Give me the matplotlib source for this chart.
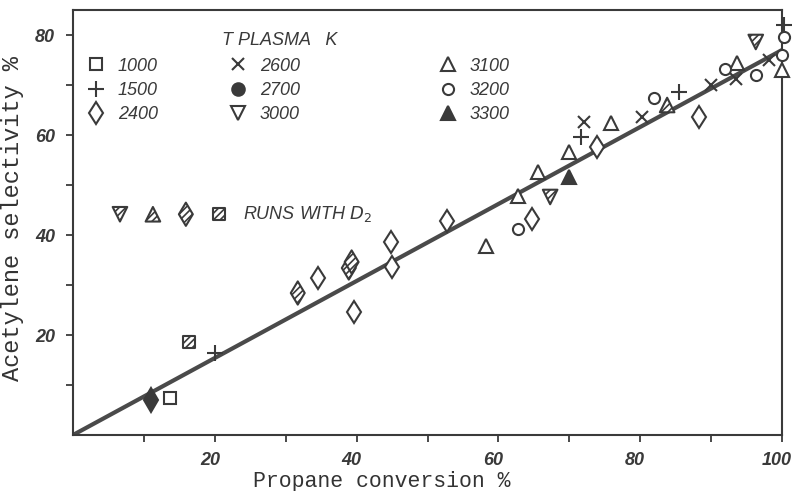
import numpy as np
import matplotlib
matplotlib.use('Agg')
import matplotlib.pyplot as plt
import matplotlib.transforms as mtransforms
from matplotlib.legend_handler import HandlerTuple

ink = '#3a3a3a'

# plasma temperature series, (propane conversion %, acetylene selectivity %)
x1000 = [13.7]
y1000 = [7.4]
x1500 = [20.0, 71.7, 85.5, 100.3]
y1500 = [16.4, 59.6, 68.6, 82.0]
x2400 = [34.5, 39.7, 44.9, 45.0, 52.7, 64.8, 73.9, 88.3]
y2400 = [31.4, 24.6, 38.6, 33.6, 42.8, 43.2, 57.6, 63.6]
x2600 = [72.1, 80.3, 90.0, 93.5, 98.2]
y2600 = [62.6, 63.6, 70.0, 71.2, 75.0]
x3100 = [58.3, 62.7, 65.6, 70.0, 75.9, 93.7, 100.0]
y3100 = [37.8, 47.8, 52.6, 56.6, 62.4, 74.4, 73.0]
x3200 = [62.7, 82.0, 92.0, 96.3, 100.3, 100.0]
y3200 = [41.2, 67.4, 73.2, 72.0, 79.6, 76.0]
x3300 = [70.0]
y3300 = [51.6]
xfill = [11.0]
yfill = [7.0]

# runs with D2 (hatched symbols)
xd2_sq = [16.3]
yd2_sq = [18.6]
xd2_di = [31.7, 38.9, 39.3]
yd2_di = [28.4, 33.4, 34.6]
xd2_dn = [67.3, 96.3]
yd2_dn = [47.6, 78.6]
xd2_up = [83.8]
yd2_up = [66.0]

# fitted line end points
fit_x = [0, 100]
fit_y = [0, 77]

xticks = [10, 20, 30, 40, 50, 60, 70, 80, 90, 100]
xticklabels = ['', '20', '', '40', '', '60', '', '80', '', '100']
yticks = [10, 20, 30, 40, 50, 60, 70, 80]
yticklabels = ['', '20', '', '40', '', '60', '', '80']

fig = plt.figure(figsize=(7.95, 4.91), dpi=100)
ax = fig.add_axes([73/795, 56/491, 709/795, 425/491])
ax.set_xlim(0, 100)
ax.set_ylim(0, 85)

ax.plot(fit_x, fit_y, color='#4a4a4a', lw=3.0, solid_capstyle='butt', zorder=1)

mk = dict(linestyle='none', markeredgecolor=ink, markeredgewidth=1.5, clip_on=False, zorder=3)
h1000, = ax.plot(x1000, y1000, marker='s', ms=8.5, mfc='white', label='1000', **mk)
h1500, = ax.plot(x1500, y1500, marker='+', ms=11, mfc='white', label='1500', **mk)
h2400, = ax.plot(x2400, y2400, marker='d', ms=11.5, mfc='white', label='2400', **mk)
h2600, = ax.plot(x2600, y2600, marker='x', ms=9, mfc='white', label='2600', **mk)
h2700, = ax.plot([], [], marker='o', ms=9, mfc=ink, label='2700', **mk)
h3000, = ax.plot([], [], marker='v', ms=10, mfc='white', label='3000', **mk)
h3100, = ax.plot(x3100, y3100, marker='^', ms=10, mfc='white', label='3100', **mk)
h3200, = ax.plot(x3200, y3200, marker='o', ms=8, mfc='white', label='3200', **mk)
h3300, = ax.plot(x3300, y3300, marker='^', ms=10, mfc=ink, label='3300', **mk)
ax.plot(xfill, yfill, marker='d', ms=12, mfc=ink, **mk)

sc = dict(facecolor='white', edgecolor=ink, linewidths=1.5, hatch='/////', clip_on=False, zorder=3)
plt.rcParams['hatch.linewidth'] = 1.2
d_dn = ax.scatter(xd2_dn, yd2_dn, marker='v', s=110, **sc)
d_up = ax.scatter(xd2_up, yd2_up, marker='^', s=110, **sc)
d_di = ax.scatter(xd2_di, yd2_di, marker='d', s=140, **sc)
d_sq = ax.scatter(xd2_sq, yd2_sq, marker='s', s=75, **sc)

for s in ax.spines.values():
    s.set_linewidth(1.5)
    s.set_color(ink)

tickfont = dict(family='Liberation Sans', weight='bold', style='italic', size=13)
ax.set_xticks(xticks)
ax.set_xticklabels(xticklabels, **tickfont, color=ink)
ax.set_yticks(yticks)
ax.set_yticklabels(yticklabels, **tickfont, color=ink)
ax.tick_params(direction='out', length=5, width=1.3, color=ink)
ax.tick_params(axis='x', pad=7)
ax.tick_params(axis='y', pad=8)
shift = mtransforms.ScaledTranslation(-5/100, 0, fig.dpi_scale_trans)
for lab in ax.get_xticklabels():
    lab.set_transform(lab.get_transform() + shift)

ax.set_xlabel('Propane conversion %', va='center', family='Liberation Mono', size=15.5, color='#333333')
ax.xaxis.set_label_coords((382 - 73) / 709, -0.11)
ax.set_ylabel('Acetylene selectivity %', va='center', family='Liberation Mono', size=17, color='#333333')
ax.yaxis.set_label_coords(-0.085, 0.51)

legfont = dict(family='Liberation Sans', style='italic', size=13)
cols = [([h1000, h1500, h2400], 0.020), ([h2600, h2700, h3000], 0.220), ([h3100, h3200, h3300], 0.516)]
for hs, x0 in cols:
    lg = ax.legend(handles=hs, loc='upper left', bbox_to_anchor=(x0, 0.888), frameon=False,
                   borderpad=0, borderaxespad=0, handlelength=1.0, handletextpad=0.7,
                   labelspacing=0.4, prop=legfont, labelcolor=ink)
    ax.add_artist(lg)

ax.text(0.292, 0.929, 'T PLASMA   K', transform=ax.transAxes, ha='center', va='center',
        color=ink, **legfont)

lg2 = ax.legend(handles=[(d_dn, d_up, d_di, d_sq)], labels=['RUNS WITH $D_2$'],
                handler_map={tuple: HandlerTuple(ndivide=None, pad=0)},
                loc='center left', bbox_to_anchor=(0.043, 0.52), frameon=False,
                borderpad=0, borderaxespad=0, handlelength=7.3, handletextpad=0.4,
                prop=legfont, labelcolor=ink, scatterpoints=1)

fig.savefig('out.png', dpi=100, facecolor='white')
